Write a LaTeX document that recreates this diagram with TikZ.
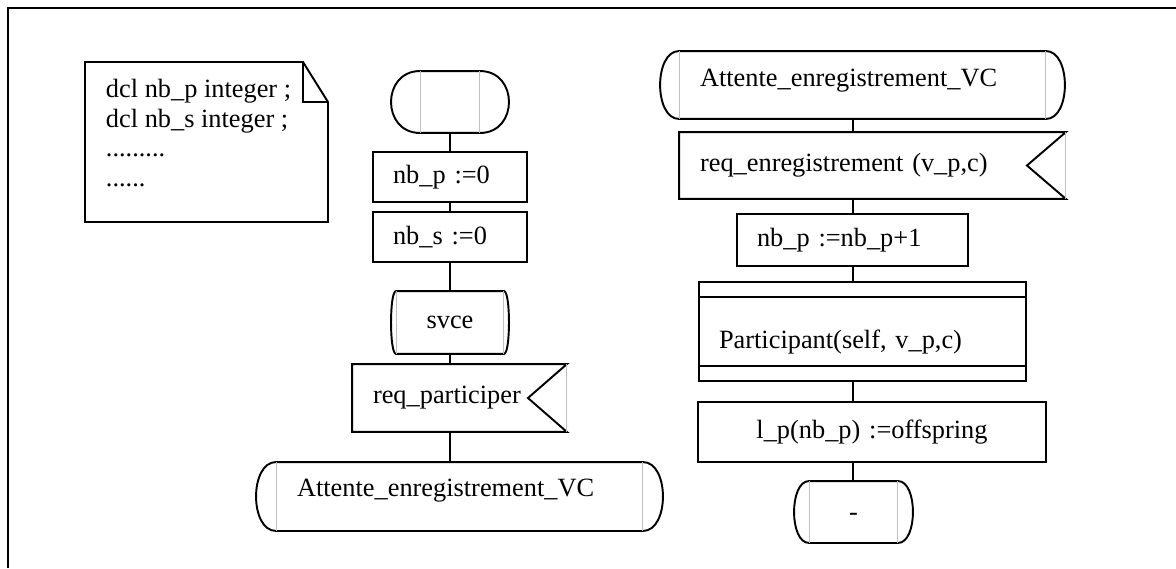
\documentclass[tikz,border=0pt]{standalone}
\usepackage{fontspec}
\setmainfont{Liberation Serif}

\begin{document}
\begin{tikzpicture}[x=0.02cm,y=-0.02cm,line width=1.1pt,
  every node/.style={font=\fontsize{15}{17}\selectfont,inner ysep=0pt},
  txt/.style={align=left,inner xsep=0.4cm},
  proc/.style={draw,txt},
  pale/.style={line width=0.6pt,black!25}]
\useasboundingbox (0,0) rectangle (1176,568);
\draw[line width=1.5pt] (8,568) -- (8,8) -- (1176,8);

% declarations
\draw (85,62) -- (303,62) -- (328,102) -- (328,222) -- (85,222) -- cycle;
\draw (303,62) -- (303,102) -- (328,102);
\node[anchor=north west,align=left,inner sep=0pt] (decl) at (105,78)
  {dcl nb\_p integer ;\\dcl nb\_s integer ;\\.........\\......};

% left column
\coordinate (colL) at (450,0);
\node[minimum width=1.16cm,minimum height=1.2cm] (start) at (450,102) {};
\node[proc,minimum height=1cm,text width=2.28cm] (nbp) at (450,177) {nb\_p :=0};
\node[proc,minimum height=1cm,text width=2.28cm] (nbs) at (450,237) {nb\_s :=0};
\node[txt,align=center,minimum height=1.22cm,text width=1.32cm] (svce) at (450,322.5) {svce};
\node[txt,minimum height=1.32cm,text width=3.46cm] (reqpart) at (459.5,398) {req\_participer};
\node[txt,minimum height=1.34cm,text width=6.5cm,text height=0.37cm,text depth=0.36cm] (att1) at (459.5,496.5) {Attente\_enregistrement\_VC};

% right column
\coordinate (colR) at (853,0);
\node[txt,minimum height=1.32cm,text width=6.5cm,text height=0.37cm,text depth=0.3cm] (att2) at (862.5,85) {Attente\_enregistrement\_VC};
\node[txt,minimum height=1.3cm,text width=6.9cm] (reqenr) at (872.5,165.5) {req\_enregistrement (v\_p,c)};
\node[proc,minimum height=1.04cm,text width=3.82cm] (inc) at (852.5,240) {nb\_p :=nb\_p+1};
\node[proc,minimum height=1.98cm,text width=5.74cm,text height=0.81cm,text depth=0.12cm] (part) at (862.5,331.5) {Participant(self, v\_p,c)};
\node[proc,align=center,minimum height=1.2cm,text width=6.16cm] (lp) at (872,432) {l\_p(nb\_p) :=offspring};
\node[txt,align=center,minimum height=1.2cm,text width=0.94cm,text height=0.34cm,text depth=0cm] (stop) at (853.5,512) {-};

% state symbols
\foreach \n/\b in {start/38.7,svce/6.7,att1/26.7,att2/25.3,stop/20}{
  \draw (\n.north west) -- (\n.north east) .. controls +(\b,0) and +(\b,0) .. (\n.south east)
    -- (\n.south west) .. controls +(-\b,0) and +(-\b,0) .. (\n.north west);
  \draw[pale] (\n.north west) -- (\n.south west) (\n.north east) -- (\n.south east);
}
% input signals
\foreach \n in {reqpart,reqenr}{
  \draw (\n.north east) -- (\n.north west) -- (\n.south west) -- (\n.south east)
    -- ([xshift=-0.78cm]\n.east) -- cycle;
  \draw[pale] (\n.north east) -- (\n.south east);
}
\draw ([yshift=-0.32cm]part.north west) -- ([yshift=-0.32cm]part.north east)
  ([yshift=0.32cm]part.south west) -- ([yshift=0.32cm]part.south east);

\foreach \a/\b in {start/nbp,nbp/nbs,nbs/svce,svce/reqpart,reqpart/att1}
  \draw (colL |- \a.south) -- (colL |- \b.north);
\foreach \a/\b in {att2/reqenr,reqenr/inc,inc/part,part/lp,lp/stop}
  \draw (colR |- \a.south) -- (colR |- \b.north);
\end{tikzpicture}
\end{document}
